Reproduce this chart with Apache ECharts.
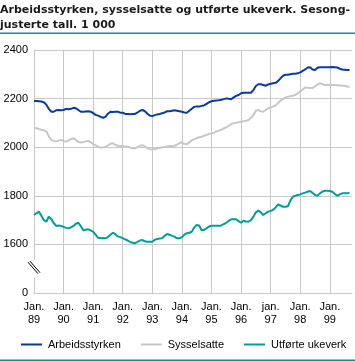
<!DOCTYPE html>
<html>
<head>
<meta charset="utf-8">
<script src="https://cdn.jsdelivr.net/npm/echarts@6/dist/echarts.min.js"></script>
<style>
html,body{margin:0;padding:0;background:#fff;}
#c{width:355px;height:361px;}
</style>
</head>
<body>
<div id="c"></div>
<script>
// Monthly categories Jan 1989 .. Oct 1999
const months = [];
for (let y = 1989; y <= 1999; y++) {
  for (let m = 1; m <= 12; m++) {
    if (y === 1999 && m > 10) break;
    months.push(y + '-' + (m < 10 ? '0' + m : m));
  }
}
const tickLabels = ['Jan.\n89','Jan.\n90','Jan.\n91','Jan.\n92','Jan.\n93','Jan.\n94','Jan.\n95','Jan.\n96','jan.\n97','Jan.\n98','Jan.\n99'];
const seriesNames = ['Arbeidsstyrken', 'Sysselsatte', 'Utførte ukeverk'];

const arbeidsstyrken = [
2190,2190,2189,2188,2185,2175,2158,2146,2146,2152,2153,2152,
2153,2158,2156,2158,2162,2160,2153,2146,2146,2147,2148,2146,
2140,2133,2130,2125,2121,2125,2138,2146,2145,2146,2146,2142,
2142,2137,2137,2136,2137,2137,2143,2150,2153,2148,2138,2130,
2128,2132,2135,2137,2140,2143,2148,2148,2150,2152,2150,2148,
2146,2143,2142,2150,2158,2166,2168,2167,2170,2172,2178,2185,
2189,2191,2192,2193,2195,2198,2201,2199,2197,2205,2211,2215,
2222,2224,2224,2224,2224,2235,2252,2259,2259,2256,2253,2258,
2261,2263,2265,2272,2283,2294,2298,2298,2300,2302,2302,2304,
2308,2314,2320,2328,2329,2320,2318,2327,2329,2329,2329,2329,
2329,2330,2329,2328,2323,2320,2319,2318,2318
];
const sysselsatte = [
2080,2078,2075,2072,2070,2066,2045,2030,2026,2023,2027,2030,
2025,2023,2028,2033,2037,2030,2022,2019,2021,2024,2026,2020,
2013,2008,2002,1998,2000,2001,2008,2014,2016,2010,2006,2005,
2004,2003,2002,1998,1996,1995,2000,2006,2008,2003,1996,1992,
1991,1993,1995,1997,2000,2001,2003,2005,2005,2006,2010,2017,
2019,2014,2012,2020,2028,2033,2037,2041,2043,2047,2051,2054,
2057,2060,2064,2068,2072,2077,2082,2088,2095,2099,2101,2103,
2105,2107,2109,2112,2120,2133,2150,2153,2148,2146,2153,2160,
2164,2167,2172,2182,2192,2198,2205,2208,2210,2212,2215,2222,
2229,2238,2246,2245,2244,2244,2250,2258,2263,2260,2256,2257,
2256,2256,2256,2255,2254,2253,2253,2250,2249
];
const utforteUkeverk = [
1721,1728,1735,1718,1700,1693,1714,1705,1688,1676,1678,1676,
1672,1668,1666,1670,1676,1685,1689,1675,1658,1660,1662,1658,
1652,1640,1627,1625,1626,1625,1630,1640,1648,1642,1633,1630,
1626,1621,1616,1610,1607,1605,1610,1616,1618,1613,1611,1611,
1611,1619,1622,1624,1625,1635,1643,1640,1635,1632,1625,1625,
1630,1640,1646,1648,1652,1670,1680,1678,1658,1660,1666,1674,
1677,1677,1677,1677,1678,1684,1689,1697,1703,1703,1703,1696,
1689,1697,1694,1693,1700,1714,1732,1739,1732,1721,1728,1735,
1738,1742,1752,1765,1760,1755,1755,1757,1780,1796,1800,1803,
1806,1810,1813,1817,1820,1812,1803,1800,1810,1817,1821,1821,
1820,1817,1808,1800,1806,1810,1810,1810,1813
];

const colors = ['#0a3a9c', '#c8c8c8', '#009e9a'];
const gridColor = '#c8c8c8';
const font = 'Arial, "Liberation Sans", sans-serif';

const chart = echarts.init(document.getElementById('c'), null, {renderer: 'canvas'});
const isJan = (i) => i % 12 === 0;

chart.setOption({
  animation: false,
  title: {
    text: 'Arbeidsstyrken, sysselsatte og utførte ukeverk. Sesong-\njusterte tall. 1 000',
    left: 0, top: 3, padding: 0,
    textStyle: {fontFamily: '"DejaVu Sans", sans-serif', fontSize: 11, fontWeight: 'bold', color: '#1a1a1a', lineHeight: 14.5}
  },
  legend: {
    top: 339, left: 21, width: 334, padding: 0,
    itemWidth: 21, itemHeight: 2, itemGap: 20,
    icon: 'rect',
    textStyle: {fontFamily: font, fontSize: 11, color: '#000', padding: [0, 0, 0, 1]},
    data: seriesNames
  },
  grid: {left: 34, right: 3, top: 50, bottom: 68},
  xAxis: {
    type: 'category', data: months, boundaryGap: false,
    axisLine: {show: true, lineStyle: {color: gridColor, width: 1}},
    axisTick: {show: false},
    axisLabel: {
      interval: (i) => isJan(i),
      formatter: (v, i) => tickLabels[Math.round(i / 12)],
      fontFamily: font, fontSize: 11, color: '#000', lineHeight: 13.5, margin: 7
    },
    splitLine: {show: true, interval: (i) => isJan(i), lineStyle: {color: gridColor, width: 1}}
  },
  yAxis: {
    type: 'value', min: 1400, max: 2400, interval: 200,
    axisLine: {show: true, lineStyle: {color: gridColor, width: 1}},
    axisTick: {show: false},
    axisLabel: {
      formatter: (v) => v === 1400 ? '0' : String(v),
      fontFamily: font, fontSize: 11, color: '#000', margin: 6
    },
    splitLine: {show: true, lineStyle: {color: gridColor, width: 1}}
  },
  series: [
    {name: seriesNames[0], type: 'line', data: arbeidsstyrken, symbol: 'none', lineStyle: {color: colors[0], width: 2}, itemStyle: {color: colors[0]}},
    {name: seriesNames[1], type: 'line', data: sysselsatte, symbol: 'none', lineStyle: {color: colors[1], width: 2}, itemStyle: {color: colors[1]}},
    {name: seriesNames[2], type: 'line', data: utforteUkeverk, symbol: 'none', lineStyle: {color: colors[2], width: 2}, itemStyle: {color: colors[2]}}
  ]
});

// Axis break marker and teal rules
const bx = chart.convertToPixel({xAxisIndex: 0}, 0);
const by = chart.convertToPixel({yAxisIndex: 0}, 1500);
chart.setOption({
  graphic: [
    {type: 'rect', shape: {x: 0, y: 32.5, width: 355, height: 1.5}, style: {fill: '#12908e'}, silent: true},
    {type: 'rect', shape: {x: 0, y: 359.5, width: 355, height: 1.5}, style: {fill: '#12908e'}, silent: true},
    {type: 'rect', shape: {x: bx - 2, y: by - 9, width: 4, height: 18}, style: {fill: '#fff'}, silent: true, z: 100},
    {type: 'line', shape: {x1: bx - 6, y1: by - 6.5, x2: bx + 4, y2: by + 5}, style: {stroke: '#000', lineWidth: 1}, silent: true, z: 101},
    {type: 'line', shape: {x1: bx - 4, y1: by - 7.5, x2: bx + 6, y2: by + 4}, style: {stroke: '#000', lineWidth: 1}, silent: true, z: 101}
  ]
});
</script>
</body>
</html>
